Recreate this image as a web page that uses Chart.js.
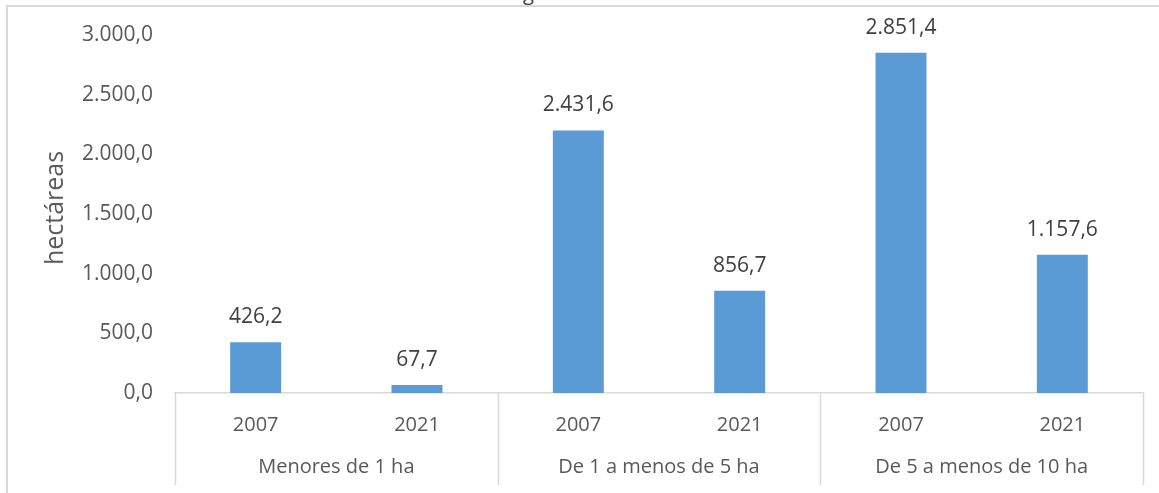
<!DOCTYPE html>
<html>
<head>
<meta charset="utf-8">
<script src="https://cdn.jsdelivr.net/npm/chart.js@4.4.1/dist/chart.umd.min.js"></script>
<style>
  html, body { margin: 0; padding: 0; background: #fff; }
  #wrap { position: relative; width: 1159px; height: 493px; overflow: hidden; }
  #frame { position: absolute; left: 6px; top: 5px; width: 1153px; height: 488px;
           border-top: 2px solid #d9d9d9; border-left: 2px solid #d9d9d9; box-sizing: border-box; }
  #cut { position: absolute; left: 523px; top: -17px; font: 20px "Open Sans", sans-serif;
         line-height: 20px; color: #404040; }
  canvas { position: absolute; left: 0; top: 0; }
</style>
</head>
<body>
<div id="wrap">
  <div id="frame"></div>
  <div id="cut">g</div>
  <canvas id="chart" width="1159" height="493"></canvas>
</div>
<script>
// datos
const years = ['2007', '2021', '2007', '2021', '2007', '2021'];
const groups = ['Menores de 1 ha', 'De 1 a menos de 5 ha', 'De 5 a menos de 10 ha'];
const barValues = [426.2, 67.7, 2200.0, 856.7, 2851.4, 1157.6];
const valueLabels = ['426,2', '67,7', '2.431,6', '856,7', '2.851,4', '1.157,6'];
const yTicks = [0, 500, 1000, 1500, 2000, 2500, 3000];
const yTitle = 'hectáreas';

const FONT = '"Open Sans", sans-serif';
const FS_NUM = 21;
const FS_YEAR = 20;
const FS_GROUP = 20;
const FS_TITLE = 25;

function fmt(v) {
    const parts = v.toFixed(1).split('.');
    return parts[0].replace(/\B(?=(\d{3})+(?!\d))/g, '.') + ',' + parts[1];
}

// plugin: etiquetas, eje de grupos y titulo
const extras = {
    id: 'extras',
    afterDraw(chart) {
        const c = chart.ctx;
        const x = chart.scales.x;
        const meta = chart.getDatasetMeta(0);

        c.save();
        // etiquetas de valores
        c.font = FS_NUM + 'px ' + FONT;
        c.fillStyle = '#404040';
        c.textAlign = 'center';
        c.textBaseline = 'alphabetic';
        meta.data.forEach((bar, i) => {
            c.fillText(valueLabels[i], bar.x, bar.y - 19);
        });

        // separadores de grupos
        const gw = (x.right - x.left) / groups.length;
        c.strokeStyle = '#d9d9d9';
        c.lineWidth = 1.5;
        for (let g = 0; g <= groups.length; g++) {
            const px = Math.round(x.left + g * gw) + 0.5;
            c.beginPath();
            c.moveTo(px, x.top);
            c.lineTo(px, 485);
            c.stroke();
        }
        c.font = FS_GROUP + 'px ' + FONT;
        c.fillStyle = '#595959';
        c.textBaseline = 'middle';
        groups.forEach((name, g) => {
            c.fillText(name, x.left + (g + 0.5) * gw, 467);
        });

        // titulo del eje y
        c.font = FS_TITLE + 'px ' + FONT;
        c.translate(56, 208);
        c.rotate(-Math.PI / 2);
        c.fillText(yTitle, 0, 0);
        c.restore();
    }
};

const ctx = document.getElementById('chart').getContext('2d');
new Chart(ctx, {
    type: 'bar',
    data: {
        labels: years,
        datasets: [{
            data: barValues,
            backgroundColor: '#5b9bd5',
            borderWidth: 0,
            categoryPercentage: 1,
            barPercentage: 0.316
        }]
    },
    options: {
        responsive: false,
        animation: false,
        devicePixelRatio: 1,
        layout: { padding: { top: 35, right: 16, left: 0, bottom: 0 } },
        plugins: {
            legend: { display: false },
            tooltip: { enabled: false }
        },
        scales: {
            y: {
                min: 0,
                max: 3000,
                afterBuildTicks(scale) {
                    scale.ticks = yTicks.map(v => ({ value: v }));
                },
                afterFit(scale) { scale.width = 175; },
                grid: { display: false, drawTicks: false },
                border: { display: false },
                ticks: {
                    padding: 22,
                    color: '#595959',
                    font: { family: FONT, size: FS_NUM },
                    callback: v => fmt(v)
                }
            },
            x: {
                afterFit(scale) { scale.height = 100; },
                grid: { display: false, drawTicks: false },
                border: { display: true, color: '#d9d9d9', width: 1.5 },
                ticks: {
                    padding: 20,
                    color: '#595959',
                    maxRotation: 0,
                    font: { family: FONT, size: FS_YEAR }
                }
            }
        }
    },
    plugins: [extras]
});
</script>
</body>
</html>
